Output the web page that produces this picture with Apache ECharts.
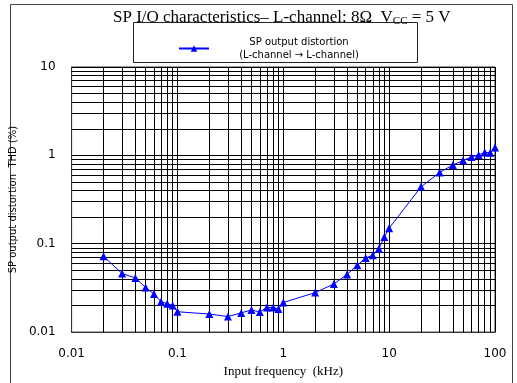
<!DOCTYPE html>
<html><head><meta charset="utf-8">
<script src="https://cdn.jsdelivr.net/npm/echarts@6/dist/echarts.min.js"></script>
<style>html,body{margin:0;padding:0;background:#fff}#c{width:517px;height:383px}</style>
</head><body><div id="c"></div>
<script>
var frequencies = [0.02,0.03,0.04,0.05,0.06,0.07,0.08,0.09,0.1,0.2,0.3,0.4,0.5,0.6,0.7,0.8,0.9,1,2,3,4,5,6,7,8,9,10,20,30,40,50,60,70,80,90,100];
var thd = [0.072,0.046,0.041,0.032,0.027,0.022,0.021,0.020,0.017,0.016,0.015,0.0165,0.0178,0.0169,0.019,0.019,0.0183,0.0216,0.028,0.035,0.045,0.057,0.069,0.074,0.088,0.119,0.150,0.44,0.64,0.78,0.875,0.96,1.01,1.08,1.07,1.23];
var xDecades = [0.01,0.1,1,10];
var yDecades = [0.01,0.1,1];
var minorSteps = [2,3,4,5,6,7,8,9];
var seriesName = 'SP output distortion';

var gridLines = [];
xDecades.forEach(function(d){ minorSteps.forEach(function(m){ gridLines.push({xAxis: +(d*m).toPrecision(3)}); }); });
yDecades.forEach(function(d){ minorSteps.forEach(function(m){ gridLines.push({yAxis: +(d*m).toPrecision(3)}); }); });

var chart = echarts.init(document.getElementById('c'));
chart.setOption({
  animation: false,
  backgroundColor: '#fff',
  title: {
    text: '{a|SP I/O characteristics\u2013 L-channel: 8\u03A9  V}{s|CC}{a| = 5 V}',
    left: 108, top: 4,
    textStyle: { fontWeight: 'normal', rich: {
      a: { fontFamily: 'Liberation Serif', fontSize: 17, fontWeight: 'normal', color: '#000' },
      s: { fontFamily: 'Liberation Serif', fontSize: 11, fontWeight: 'normal', color: '#000', verticalAlign: 'bottom', padding: [7,0,0,0] }
    } }
  },
  graphic: [
    { type: 'rect', shape: { x: 10.5, y: 4.5, width: 502, height: 420 }, style: { fill: 'none', stroke: '#444', lineWidth: 1 }, silent: true, z: 0 },
    { type: 'rect', shape: { x: 133.5, y: 22.5, width: 284, height: 40 }, style: { fill: 'none', stroke: '#222', lineWidth: 1 }, silent: true, z: 0 }
  ],
  legend: {
    left: 173, top: 32,
    itemWidth: 30, itemHeight: 8, itemGap: 5,
    data: [seriesName],
    formatter: function(){ return '{a|SP output distortion}\n{a|(L-channel \u2192 L-channel)}'; },
    textStyle: { rich: { a: { width: 170, align: 'center', fontFamily: 'DejaVu Sans', fontSize: 10, lineHeight: 13, color: '#000' } } }
  },
  grid: { left: 69, top: 67, right: 22, bottom: 45, show: true, borderColor: '#333', borderWidth: 1 },
  xAxis: {
    type: 'log', min: 0.01, max: 100, logBase: 10,
    name: 'Input frequency  (kHz)', nameLocation: 'middle', nameGap: 30,
    nameTextStyle: { fontFamily: 'Liberation Serif', fontSize: 13, color: '#000' },
    axisLine: { show: true, lineStyle: { color: '#333' } },
    axisTick: { show: false },
    axisLabel: { margin: 16, fontFamily: 'DejaVu Sans', fontSize: 12, color: '#000', formatter: function(v){ return String(+v.toPrecision(3)); } },
    splitLine: { show: true, lineStyle: { color: '#000', width: 1 } }
  },
  yAxis: {
    type: 'log', min: 0.01, max: 10, logBase: 10,
    name: 'SP output distortion  THD (%)', nameLocation: 'middle', nameGap: 42,
    nameTextStyle: { fontFamily: 'DejaVu Sans', fontSize: 10, color: '#000' },
    axisLine: { show: true, lineStyle: { color: '#333' } },
    axisTick: { show: false },
    axisLabel: { margin: 16, fontFamily: 'DejaVu Sans', fontSize: 12, color: '#000', formatter: function(v){ return String(+v.toPrecision(3)); } },
    splitLine: { show: true, lineStyle: { color: '#000', width: 1 } }
  },
  series: [{
    name: seriesName,
    type: 'line',
    data: frequencies.map(function(f, i){ return [f, thd[i]]; }),
    symbol: 'triangle', symbolSize: 8,
    lineStyle: { color: '#0000ff', width: 1 },
    itemStyle: { color: '#0000ff' },
    z: 5,
    markLine: {
      silent: true, symbol: 'none', label: { show: false },
      lineStyle: { color: '#000', width: 1, type: 'solid' },
      data: gridLines, z: 1
    }
  }]
});
</script></body></html>
